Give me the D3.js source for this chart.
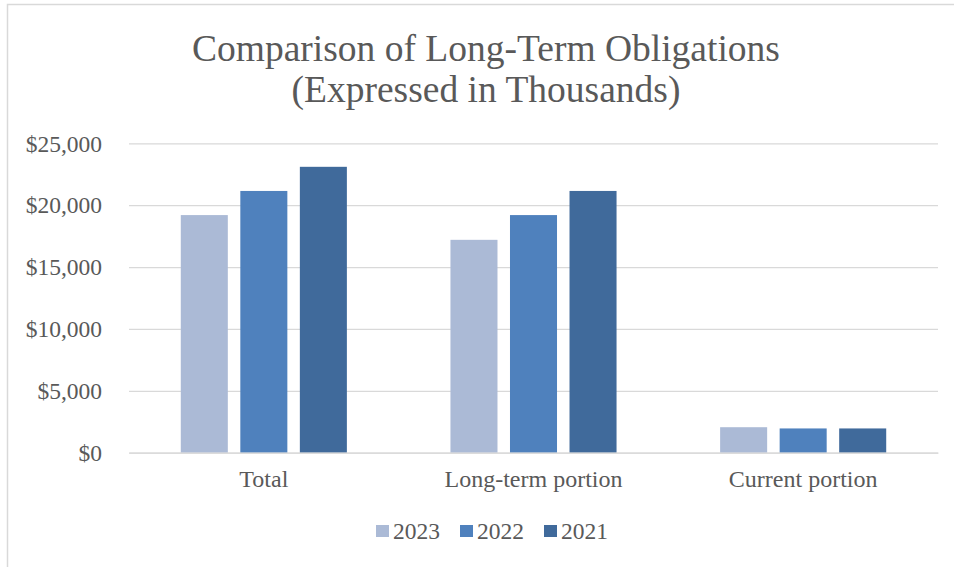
<!DOCTYPE html>
<html><head><meta charset="utf-8">
<script src="https://cdn.jsdelivr.net/npm/d3@7"></script>
<style>html,body{margin:0;padding:0;background:#fff;overflow:hidden}</style>
</head><body>
<svg id="chart" width="954" height="567"></svg>
<script>
const categories = ["Total", "Long-term portion", "Current portion"];
const seriesNames = ["2023", "2022", "2021"];
const values2023 = [19200, 17200, 2060];
const values2022 = [21150, 19200, 1960];
const values2021 = [23100, 21150, 1960];
const tickValues = [0, 5000, 10000, 15000, 20000, 25000];
const colors = ["#abbad6", "#4f81bd", "#406a9b"];

const seriesValues = [values2023, values2022, values2021];
const svg = d3.select("#chart");
const font = "'Liberation Serif','Times New Roman',serif";
const textColor = "#595959";

svg.append("rect").attr("x", 7.5).attr("y", 4.5).attr("width", 1000).attr("height", 1000)
  .attr("fill", "#fff").attr("stroke", "#d9d9d9").attr("stroke-width", 1.5);

const plot = {left: 129, right: 938, top: 143.3, bottom: 452.7};
const y = d3.scaleLinear().domain([0, 25000]).range([plot.bottom, plot.top]);
const x0 = d3.scaleBand().domain(categories).range([plot.left, plot.right]).padding(0);
const x1 = d3.scaleBand().domain(seriesNames).range([0, x0.bandwidth()])
  .paddingInner(0.21).paddingOuter(0.87);

// gridlines + y axis labels
const yAxis = d3.axisLeft(y).tickValues(tickValues)
  .tickSize(-(plot.right - plot.left)).tickPadding(27)
  .tickFormat(d => "$" + d3.format(",")(d));
const gy = svg.append("g").attr("transform", `translate(${plot.left},0)`).call(yAxis);
gy.select(".domain").remove();
gy.selectAll(".tick line").attr("stroke", "#d9d9d9").attr("stroke-width", 1.3);
gy.selectAll(".tick text").attr("fill", textColor).attr("font-family", font)
  .attr("font-size", 23.5).attr("dy", "0.33em");

// bars
const groups = svg.append("g").selectAll("g").data(categories).join("g")
  .attr("transform", d => `translate(${x0(d)},0)`);
groups.selectAll("rect")
  .data((c, ci) => seriesNames.map((s, si) => ({s, si, v: seriesValues[si][ci]})))
  .join("rect")
  .attr("x", d => x1(d.s)).attr("width", x1.bandwidth())
  .attr("y", d => y(d.v)).attr("height", d => y(0) - y(d.v))
  .attr("fill", d => colors[d.si]);

// x axis baseline and labels
const xAxis = d3.axisBottom(x0).tickSize(0).tickPadding(0);
const gx = svg.append("g").attr("transform", `translate(0,${plot.bottom})`).call(xAxis);
gx.select(".domain").attr("stroke", "#d9d9d9").attr("stroke-width", 1.3);
gx.selectAll(".tick text").attr("fill", textColor).attr("font-family", font)
  .attr("font-size", 24).attr("dy", null).attr("y", 34);

// title
const title = svg.append("text").attr("text-anchor", "middle").attr("fill", textColor)
  .attr("font-family", font).attr("font-size", 37.5);
title.append("tspan").attr("x", 486).attr("y", 61).text("Comparison of Long-Term Obligations");
title.append("tspan").attr("x", 486).attr("y", 102).text("(Expressed in Thousands)");

// legend
const legend = svg.append("g");
const items = legend.selectAll("g").data(seriesNames).join("g");
items.append("rect").attr("width", 13).attr("height", 12).attr("y", 525)
  .attr("fill", (d, i) => colors[i]);
items.append("text").attr("x", 17).attr("y", 539).attr("fill", textColor)
  .attr("font-family", font).attr("font-size", 23.5).text(d => d);
let xpos = 376;
items.each(function() {
  d3.select(this).attr("transform", `translate(${xpos},0)`);
  xpos += this.getBBox().width + 20;
});
</script>
</body></html>
